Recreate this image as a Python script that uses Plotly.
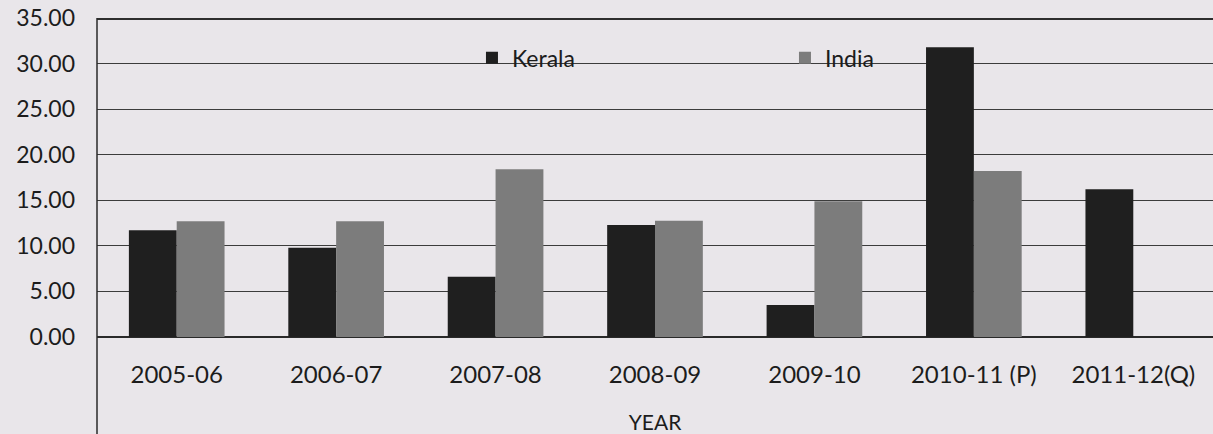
import plotly.graph_objects as go

categories = ["2005-06", "2006-07", "2007-08", "2008-09", "2009-10", "2010-11 (P)", "2011-12(Q)"]
kerala = [11.7, 9.8, 6.6, 12.3, 3.5, 31.8, 16.2]
india = [12.7, 12.7, 18.4, 12.75, 14.9, 18.2, None]
y_ticks = [0, 5, 10, 15, 20, 25, 30, 35]

FONT = "Lato"
TXT = "#1c1c1c"
BG = "#e9e6ea"
GRID = "#3c3c3c"

fig = go.Figure()
fig.add_trace(go.Bar(name="Kerala", x=categories, y=kerala,
                     marker=dict(color="#1f1f1f", line=dict(width=0))))
fig.add_trace(go.Bar(name="India", x=categories, y=india,
                     marker=dict(color="#7c7c7c", line=dict(width=0))))

fig.update_layout(
    width=1213, height=434,
    margin=dict(l=97, r=0, t=18, b=97, autoexpand=False),
    paper_bgcolor=BG, plot_bgcolor=BG,
    barmode="group", bargap=0.40, bargroupgap=0,
    font=dict(family=FONT, color=TXT, size=23),
    showlegend=True,
    legend=dict(orientation="h", x=0.336, xanchor="left", y=0.875, yanchor="middle",
                bgcolor="rgba(0,0,0,0)", font=dict(size=23, family=FONT, color=TXT),
                entrywidth=268, entrywidthmode="pixels", traceorder="normal"),
    xaxis=dict(type="category", showgrid=False, showline=False, ticks="", ticklabelstandoff=21,
               tickfont=dict(size=24, family=FONT, color=TXT),
               title=dict(text="YEAR", font=dict(size=21, family=FONT, color=TXT), standoff=28),
               automargin=False),
    yaxis=dict(range=[0, 35], tickvals=y_ticks, tickformat=".2f",
               showgrid=True, gridcolor=GRID, gridwidth=1,
               zeroline=True, zerolinecolor="#2a2a2a", zerolinewidth=1.5,
               showline=False, ticks="", ticklabelstandoff=21,
               tickfont=dict(size=23, family=FONT, color=TXT), automargin=False),
)

# top frame line (the 35.00 gridline) and left frame line extending below the axis
fig.add_shape(type="line", xref="paper", yref="paper", x0=0, x1=1, y0=0.997, y1=0.997,
              line=dict(color="#2e2e2e", width=2), layer="above")
fig.add_shape(type="line", xref="paper", yref="paper", x0=0, x1=0, y0=1, y1=-0.31,
              line=dict(color="#2a2a2a", width=1.5))

fig.write_html("out.html", config={"displayModeBar": False},
               post_script="document.body.style.margin='0';document.body.style.background='%s';" % BG)
